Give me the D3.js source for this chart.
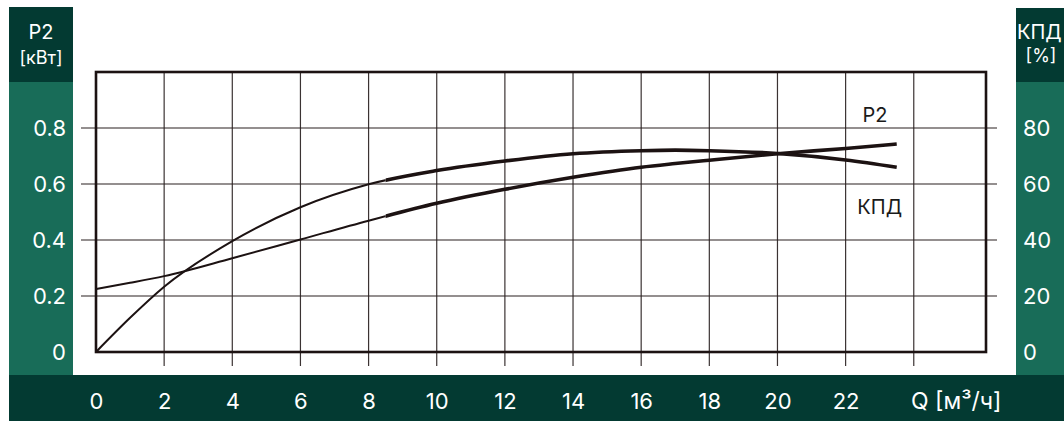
<!DOCTYPE html>
<html>
<head>
<meta charset="utf-8">
<script src="https://cdn.jsdelivr.net/npm/d3@7"></script>
<style>
  html, body { margin: 0; padding: 0; background: #fff; }
  svg { display: block; font-family: Inter, "Noto Sans", sans-serif; }
</style>
</head>
<body>
<svg id="chart" width="1064" height="421"></svg>
<script>
// ---- data ----
const xTicks = [0, 2, 4, 6, 8, 10, 12, 14, 16, 18, 20, 22];
const yTicksLeft = [0, 0.2, 0.4, 0.6, 0.8];
const yTicksLeftLabels = ["0", "0.2", "0.4", "0.6", "0.8"];
const yTicksRight = [0, 20, 40, 60, 80];
const xGrid = [2, 4, 6, 8, 10, 12, 14, 16, 18, 20, 22, 24];
const yGrid = [0.2, 0.4, 0.6, 0.8];

const flowQ = [0, 1, 2, 4, 6, 8, 10, 12, 14, 16, 17, 18, 20, 22, 23.5];
const powerP2 = [0.225, 0.247, 0.271, 0.335, 0.402, 0.469, 0.531, 0.581, 0.624, 0.660, 0.673, 0.685, 0.708, 0.727, 0.743];
const efficiency = [0, 12.2, 23.3, 39.6, 51.7, 59.9, 64.8, 68.2, 70.8, 71.9, 72.1, 71.9, 70.9, 68.6, 66.0];
const workStart = 8.5;

const xAxisTitle = "Q [м³/ч]";
const leftTitle = ["P2", "[кВт]"];
const rightTitle = ["КПД", "[%]"];

// ---- layout ----
const svg = d3.select("#chart");
const dark = "#033a32", light = "#186c58", ink = "#1c1212";

const x = d3.scaleLinear().domain([0, 26.12]).range([96, 986]);
const y = d3.scaleLinear().domain([0, 1]).range([352, 72]);
const yR = d3.scaleLinear().domain([0, 100]).range([352, 72]);

// panels
svg.append("rect").attr("x", 9).attr("y", 7).attr("width", 64).attr("height", 75).attr("fill", dark);
svg.append("rect").attr("x", 9).attr("y", 82).attr("width", 64).attr("height", 293).attr("fill", light);
svg.append("rect").attr("x", 1016).attr("y", 8).attr("width", 48).attr("height", 74).attr("fill", dark);
svg.append("rect").attr("x", 1016).attr("y", 82).attr("width", 48).attr("height", 293).attr("fill", light);
svg.append("rect").attr("x", 9).attr("y", 375).attr("width", 1055).attr("height", 46).attr("fill", dark);

// grid
const g = svg.append("g");
g.selectAll(".vg").data(xGrid).enter().append("line")
  .attr("x1", d => x(d)).attr("x2", d => x(d))
  .attr("y1", y(1)).attr("y2", y(0) + 14)
  .attr("stroke", "#3b3333").attr("stroke-width", 1.2);
g.selectAll(".hg").data(yGrid).enter().append("line")
  .attr("x1", 81).attr("x2", 997)
  .attr("y1", d => y(d)).attr("y2", d => y(d))
  .attr("stroke", "#2a2020").attr("stroke-width", 1.2);

// frame
g.append("rect").attr("x", x(0)).attr("y", y(1))
  .attr("width", x.range()[1] - x(0)).attr("height", y(0) - y(1))
  .attr("fill", "none").attr("stroke", ink).attr("stroke-width", 2.6);

// axes labels
const fs = 22;
const bottomAxis = d3.axisBottom(x).tickValues(xTicks).tickSize(0).tickPadding(0);
const ba = svg.append("g").attr("transform", "translate(0,409)").call(bottomAxis);
ba.select(".domain").remove();
ba.selectAll("text").attr("fill", "#fff").attr("font-size", fs).attr("dy", 0)
  .attr("font-family", "Inter, sans-serif");

svg.append("text").attr("x", 911).attr("y", 409).attr("fill", "#fff")
  .attr("font-size", 23).text(xAxisTitle);

const leftAxis = d3.axisLeft(y).tickValues(yTicksLeft)
  .tickFormat((d, i) => yTicksLeftLabels[i]).tickSize(0).tickPadding(0);
const la = svg.append("g").attr("transform", "translate(66,0)").call(leftAxis);
la.select(".domain").remove();
la.selectAll("text").attr("fill", "#fff").attr("font-size", fs).attr("dy", "0.36em")
  .attr("font-family", "Inter, sans-serif");

const rightAxis = d3.axisRight(yR).tickValues(yTicksRight).tickSize(0).tickPadding(0);
const ra = svg.append("g").attr("transform", "translate(1023,0)").call(rightAxis);
ra.select(".domain").remove();
ra.selectAll("text").attr("fill", "#fff").attr("font-size", fs).attr("dy", "0.36em")
  .attr("font-family", "Inter, sans-serif");

// titles
svg.append("text").attr("x", 41).attr("y", 39).attr("text-anchor", "middle")
  .attr("fill", "#fff").attr("font-size", 20).text(leftTitle[0]);
svg.append("text").attr("x", 41).attr("y", 64).attr("text-anchor", "middle")
  .attr("fill", "#fff").attr("font-size", 18).text(leftTitle[1]);
svg.append("text").attr("x", 1017).attr("y", 39).attr("text-anchor", "start")
  .attr("fill", "#fff").attr("font-size", 20).text(rightTitle[0]);
svg.append("text").attr("x", 1041).attr("y", 62).attr("text-anchor", "middle")
  .attr("fill", "#fff").attr("font-size", 18).text(rightTitle[1]);

// curves
const p2Data = flowQ.map((q, i) => [q, powerP2[i]]);
const effData = flowQ.map((q, i) => [q, efficiency[i]]);
const lineP = d3.line().x(d => x(d[0])).y(d => y(d[1])).curve(d3.curveMonotoneX);
const lineE = d3.line().x(d => x(d[0])).y(d => yR(d[1])).curve(d3.curveMonotoneX);

const defs = svg.append("defs");
defs.append("clipPath").attr("id", "thin").append("rect")
  .attr("x", 0).attr("y", 0).attr("width", x(workStart)).attr("height", 421);
defs.append("clipPath").attr("id", "thick").append("rect")
  .attr("x", x(workStart)).attr("y", 0).attr("width", 1064 - x(workStart)).attr("height", 421);

[[p2Data, lineP], [effData, lineE]].forEach(([data, gen]) => {
  svg.append("path").attr("d", gen(data)).attr("fill", "none")
    .attr("stroke", ink).attr("stroke-width", 2).attr("clip-path", "url(#thin)");
  svg.append("path").attr("d", gen(data)).attr("fill", "none")
    .attr("stroke", ink).attr("stroke-width", 3.6).attr("clip-path", "url(#thick)");
});

// curve labels
svg.append("text").attr("x", x(22.86)).attr("y", y(0.823)).attr("text-anchor", "middle")
  .attr("fill", "#1a1a1a").attr("font-size", 20).text("P2");
svg.append("text").attr("x", x(23.0)).attr("y", y(0.494)).attr("text-anchor", "middle")
  .attr("fill", "#1a1a1a").attr("font-size", 20).text("КПД");
</script>
</body>
</html>
